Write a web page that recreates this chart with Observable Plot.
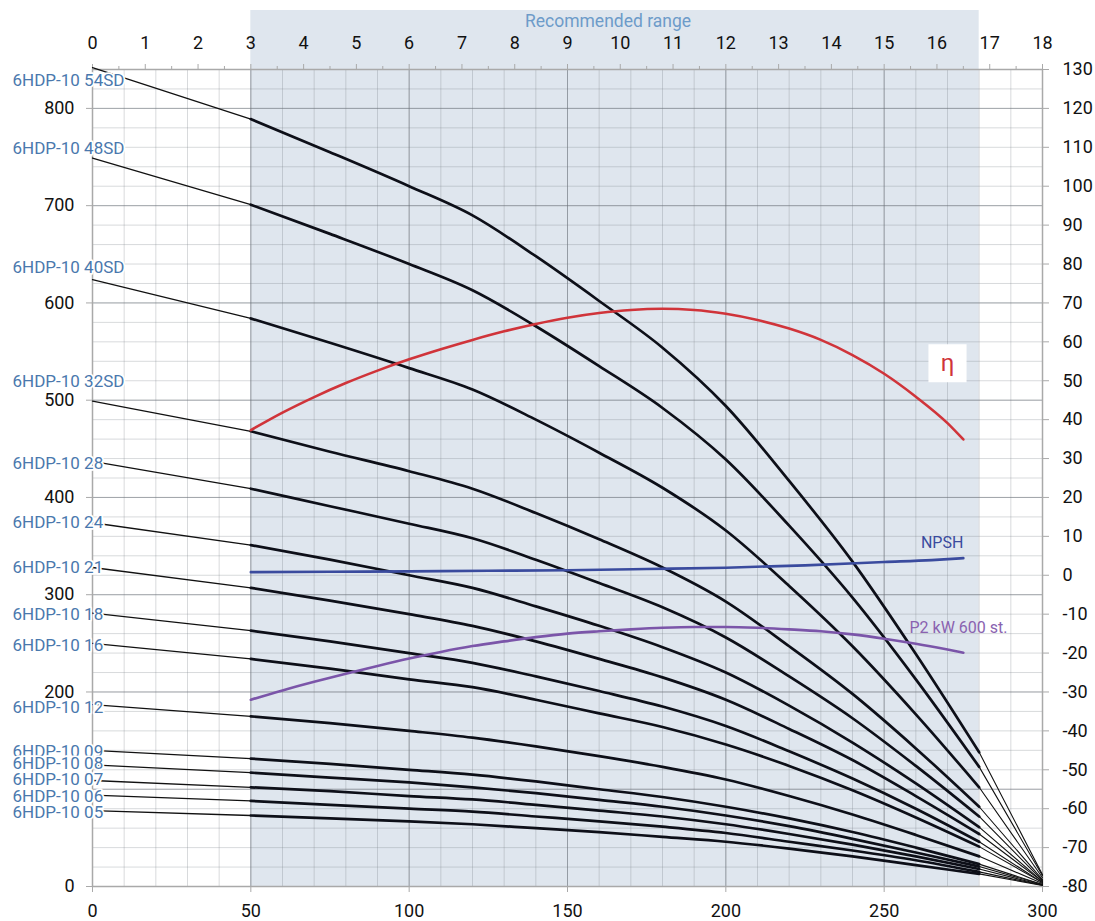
<!DOCTYPE html>
<html><head><meta charset="utf-8">
<script src="https://cdn.jsdelivr.net/npm/d3@7"></script>
<script src="https://cdn.jsdelivr.net/npm/@observablehq/plot@0.6"></script>
<style>
html,body{margin:0;padding:0;background:#fff;}
</style></head><body><div id="chart"></div>
<script>
// ---- data ----
const flow = [0, 50, 75, 100, 120, 140, 160, 180, 200, 220, 240, 260, 280, 300];
const models = ["6HDP-10 54SD","6HDP-10 48SD","6HDP-10 40SD","6HDP-10 32SD","6HDP-10 28","6HDP-10 24","6HDP-10 21","6HDP-10 18","6HDP-10 16","6HDP-10 12","6HDP-10 09","6HDP-10 08","6HDP-10 07","6HDP-10 06","6HDP-10 05"];
const head_54SD = [842, 789, 755, 720, 690, 648, 602, 554, 494, 417, 334, 239, 138, 12];
const head_48SD = [749, 701, 671, 640, 613, 576, 535, 492, 439, 371, 297, 213, 123, 11];
const head_40SD = [624, 584, 559, 533, 511, 480, 446, 410, 366, 309, 247, 177, 102, 9];
const head_32SD = [499, 468, 447, 427, 409, 384, 357, 328, 293, 247, 198, 142, 82, 7];
const head_28 = [437, 409, 391, 373, 358, 336, 312, 287, 256, 216, 173, 124, 72, 6];
const head_24 = [374, 351, 336, 320, 307, 288, 268, 246, 220, 186, 148, 106, 61, 5];
const head_21 = [328, 307, 294, 280, 268, 252, 234, 215, 192, 162, 130, 93, 54, 5];
const head_18 = [281, 263, 252, 240, 230, 216, 201, 185, 165, 139, 111, 80, 46, 4];
const head_16 = [250, 234, 224, 213, 205, 192, 178, 164, 146, 124, 99, 71, 41, 4];
const head_12 = [187, 175, 168, 160, 153, 144, 134, 123, 110, 93, 74, 53, 31, 3];
const head_09 = [140, 131.5, 126, 120, 115, 108, 100, 92, 82, 70, 56, 40, 23, 2];
const head_08 = [125, 117, 112, 107, 102, 96, 89, 82, 73, 62, 49, 35, 20.5, 2];
const head_07 = [109, 102, 98, 93, 89.5, 84, 78, 72, 64, 54, 43, 31, 18, 1.5];
const head_06 = [94, 88, 84, 80, 77, 72, 67, 61.5, 55, 46, 37, 27, 15, 1.3];
const head_05 = [78, 73, 70, 67, 64, 60, 56, 51, 46, 39, 31, 22, 13, 1];
const heads = [head_54SD, head_48SD, head_40SD, head_32SD, head_28, head_24, head_21, head_18, head_16, head_12, head_09, head_08, head_07, head_06, head_05];
// label heights (left axis units)
const labelHead = [829, 759, 636, 519, 435, 374, 328, 280, 248, 184, 139, 126.5, 110, 92.5, 76];

// efficiency / NPSH / P2 (right-axis units)
const effFlow = [50, 60, 70, 80, 90, 100, 110, 120, 130, 140, 150, 160, 170, 180, 190, 200, 210, 220, 230, 240, 250, 260, 270, 275];
const effVal  = [37.3, 41.8, 45.8, 49.4, 52.6, 55.5, 58.1, 60.5, 62.7, 64.6, 66.2, 67.4, 68.2, 68.5, 68.2, 67.2, 65.6, 63.4, 60.5, 56.6, 51.8, 45.9, 39.1, 34.9];
const npshFlow = [50, 75, 100, 125, 150, 175, 200, 225, 250, 265, 275];
const npshVal  = [0.8, 0.9, 1.0, 1.15, 1.3, 1.6, 1.95, 2.55, 3.4, 3.9, 4.4];
const p2Flow = [50, 60, 70, 80, 90, 100, 110, 120, 130, 140, 150, 160, 170, 180, 190, 200, 210, 220, 230, 240, 250, 260, 270, 275];
const p2Val  = [-32, -29.6, -27.4, -25.3, -23.3, -21.4, -19.7, -18.2, -17.0, -15.9, -15.0, -14.4, -13.9, -13.5, -13.3, -13.3, -13.5, -13.9, -14.4, -15.2, -16.3, -17.6, -19.1, -19.9];
const etaLabel = [270, 54.5];   // flow, right value
const npshLabel = [275, 8.4];
const p2Label = [258, -13.4];

const recommended = [50, 280];
const bottomTicks = [0, 50, 100, 150, 200, 250, 300];
const topTicks = [0,1,2,3,4,5,6,7,8,9,10,11,12,13,14,15,16,17,18];
const leftTicks = [0, 200, 300, 400, 500, 600, 700, 800];
const rightTicks = [-80,-70,-60,-50,-40,-30,-20,-10,0,10,20,30,40,50,60,70,80,90,100,110,120,130];

// ---- scale conversions ----
const toLeft = r => (r + 80) * 4;        // right axis -> left axis units
const topToFlow = t => t * 300 / 18;     // top axis -> bottom axis units

const rows = [];
models.forEach((m, i) => heads[i].forEach((h, j) => rows.push({model: m, flow: flow[j], head: h})));
const thick = rows.filter(d => d.flow >= 50 && d.flow <= 280);
const thinStart = rows.filter(d => d.flow <= 50);
const thinEnd = rows.filter(d => d.flow >= 280);
const eff = effFlow.map((f, i) => ({flow: f, v: toLeft(effVal[i])}));
const npsh = npshFlow.map((f, i) => ({flow: f, v: toLeft(npshVal[i])}));
const p2 = p2Flow.map((f, i) => ({flow: f, v: toLeft(p2Val[i])}));

const gridLight = "#7d848c";
const axisGray = "#a9a9a9";
const chart = Plot.plot({
  width: 1095, height: 921,
  marginLeft: 92, marginRight: 53, marginTop: 69, marginBottom: 35,
  x: {domain: [0, 300], axis: null},
  y: {domain: [0, 840], axis: null},
  style: {fontFamily: "Roboto, sans-serif", fontSize: "18px", color: "#111", background: "#fff"},
  marks: [
    Plot.rect([recommended], {x1: d => d[0], x2: d => d[1], fill: "#dfe6ee", insetTop: -59}),
    Plot.gridX({ticks: d3.range(0, 301, 10), stroke: gridLight, strokeOpacity: 0.3}),
    Plot.gridY({ticks: d3.range(0, 841, 20), stroke: gridLight, strokeOpacity: 0.3}),
    Plot.gridX({ticks: bottomTicks, stroke: "#6a7078", strokeOpacity: 0.5}),
    Plot.gridY({ticks: d3.range(0, 801, 100), stroke: "#6a7078", strokeOpacity: 0.5}),
    Plot.frame({stroke: axisGray, strokeWidth: 1.5}),
    Plot.axisX({ticks: bottomTicks, anchor: "bottom", label: null, tickSize: 6, tickPadding: 12, stroke: axisGray}),
    Plot.axisX({ticks: topTicks.map(topToFlow), anchor: "top", label: null, tickSize: 6, tickPadding: 15, stroke: axisGray,
                tickFormat: d => String(Math.round(d * 18 / 300))}),
    Plot.axisX({ticks: topTicks.slice(0, -1).map(t => topToFlow(t + 0.5)), anchor: "top", label: null, tickSize: 4, stroke: axisGray, text: null}),
    Plot.axisY({ticks: leftTicks, anchor: "left", label: null, tickSize: 6, tickPadding: 12, stroke: axisGray}),
    Plot.axisY({ticks: rightTicks.map(toLeft), anchor: "right", label: null, tickSize: 6, tickPadding: 14, stroke: axisGray,
                textAnchor: "start", tickFormat: d => String(Math.round(d / 4 - 80))}),
    Plot.text(["Recommended range"], {x: (recommended[0] + recommended[1]) / 2, frameAnchor: "top", dy: -55, dx: -7, fill: "#6d9bc9", fontSize: 17.5}),
    // pump curves
    Plot.line(thinStart, {x: "flow", y: "head", z: "model", stroke: "#111", strokeWidth: 1.3}),
    Plot.line(thinEnd, {x: "flow", y: "head", z: "model", stroke: "#111", strokeWidth: 1.1}),
    Plot.line(thick, {x: "flow", y: "head", z: "model", stroke: "#0d0f18", strokeWidth: 2.7, curve: "monotone-x"}),
    // efficiency, NPSH, P2
    Plot.line(eff, {x: "flow", y: "v", stroke: "#d0343a", strokeWidth: 2.6, curve: "monotone-x"}),
    Plot.line(npsh, {x: "flow", y: "v", stroke: "#3a4b9e", strokeWidth: 2.6, curve: "monotone-x"}),
    Plot.line(p2, {x: "flow", y: "v", stroke: "#7b55a9", strokeWidth: 2.6, curve: "monotone-x"}),
    Plot.dot([etaLabel], {x: d => d[0], y: d => toLeft(d[1]), symbol: "square", r: 21.5, fill: "white"}),
    Plot.text([etaLabel], {x: d => d[0], y: d => toLeft(d[1]), text: () => "η", fill: "#d0343a", fontSize: 24}),
    Plot.text([npshLabel], {x: d => d[0], y: d => toLeft(d[1]), text: () => "NPSH", textAnchor: "end", fill: "#3a4b9e", fontSize: 16}),
    Plot.text([p2Label], {x: d => d[0], y: d => toLeft(d[1]), text: () => "P2 kW 600 st.", textAnchor: "start", fill: "#8a62b0", fontSize: 16}),
    // model labels with a white halo that hides the line start beneath them
    Plot.text(models, {frameAnchor: "left", y: (d, i) => labelHead[i], text: d => d, dx: -80, textAnchor: "start", fontSize: 17,
                       fill: "#4a78ad", stroke: "white", strokeWidth: 3.5})
  ]
});
document.getElementById("chart").appendChild(chart);
</script>
</body></html>
